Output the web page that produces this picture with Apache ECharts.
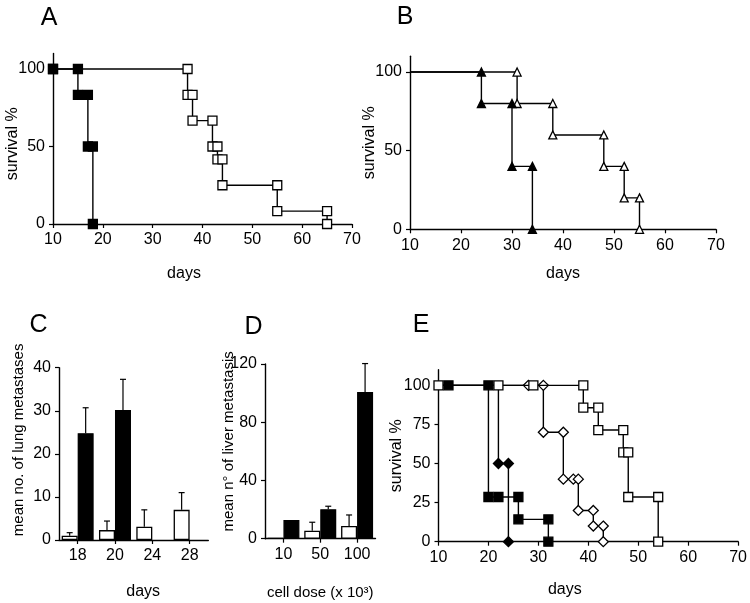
<!DOCTYPE html>
<html><head><meta charset="utf-8">
<script src="https://cdn.jsdelivr.net/npm/echarts@6/dist/echarts.min.js"></script>
<style>html,body{margin:0;padding:0;background:#fff}#c{width:750px;height:603px}</style>
</head><body><div id="c"></div>
<script>
// ---------- Panel A (survival, squares) ----------
const aDarkX = [10,15,15,17,17,18,18];
const aDarkY = [100,100,83.3,83.3,50,50,0];
const aOpenX = [10,37,37,38,38,42,42,43,43,44,44,55,55,65,65];
const aOpenY = [100,100,83.3,83.3,66.7,66.7,50,50,41.7,41.7,25,25,8.3,8.3,0];
// ---------- Panel B (survival, triangles) ----------
const bDarkX = [10,24,24,30,30,34,34];
const bDarkY = [100,100,80,80,40,40,0];
const bOpenX = [10,31,31,38,38,48,48,52,52,55,55];
const bOpenY = [100,100,80,80,60,60,40,40,20,20,0];
// ---------- Panel C (lung metastases) ----------
const cCats = ['18','20','24','28'];
const cOpen = [1.0,2.3,3.1,7.0];
const cOpenErr = [0.7,2.1,3.9,4.0];
const cDark = [24.8,30.2,null,null];
const cDarkErr = [5.9,7.1,null,null];
// ---------- Panel D (liver metastasis) ----------
const dCats = ['10','50','100'];
const dOpen = [0.5,5.5,8.7];
const dOpenErr = [null,5.8,7.6];
const dDark = [12.9,20.3,100.7];
const dDarkErr = [null,2.0,19.6];
// ---------- Panel E (survival, four groups) ----------
const eDarkSqX = [10,12,20,20,22,26,26,32,32];
const eDarkSqY = [100,100,100,28.6,28.6,28.6,14.3,14.3,0];
const eDarkDiaX = [10,22,22,24,24];
const eDarkDiaY = [100,100,50,50,0];
const eOpenDiaX = [10,28,31,31,35,35,37,38,38,41,41,43,43];
const eOpenDiaY = [100,100,100,70,70,40,40,40,20,20,10,10,0];
const eOpenSqX = [10,22,29,39,39,42,42,47,47,48,48,54,54];
const eOpenSqY = [100,100,100,100,85.7,85.7,71.4,71.4,57.1,57.1,28.6,28.6,0];

const FONT = 'Liberation Sans';
const chart = echarts.init(document.getElementById('c'), null, {renderer:'canvas'});

function pts(xs, ys, hide) {
  return xs.map((x,i) => (hide && hide.indexOf(i) >= 0) ? {value:[x,ys[i]], symbol:'none'} : [x, ys[i]]);
}
function surv(g, xs, ys, symbol, size, filled, hide, z) {
  return {
    type:'line', xAxisIndex:g, yAxisIndex:g, data:pts(xs,ys,hide),
    symbol:symbol, symbolSize:size, showAllSymbol:true, z:z||2,
    lineStyle:{color:'#000', width:1.4},
    itemStyle:{color: filled ? '#000' : '#fff', borderColor:'#000', borderWidth:1.3},
    emphasis:{disabled:true}, animation:false
  };
}
function bars(g, vals, filled) {
  return {
    type:'bar', xAxisIndex:g, yAxisIndex:g, data:vals, barWidth:16, barGap:'0%',
    itemStyle:{color: filled ? '#000' : '#fff', borderColor:'#000', borderWidth:1.3},
    emphasis:{disabled:true}, animation:false, z:2
  };
}
function errs(g, vals, errv, side) {
  const data = [];
  vals.forEach((v,i) => { if (v != null && errv[i] != null) data.push([i, v, v + errv[i]]); });
  return {
    type:'custom', xAxisIndex:g, yAxisIndex:g, data:data, z:3, animation:false,
    encode:{x:0, y:[1,2]},
    renderItem:(params, api) => {
      const p0 = api.coord([api.value(0), api.value(1)]);
      const p1 = api.coord([api.value(0), api.value(2)]);
      const x = p0[0] + side * 8;
      return {type:'group', children:[
        {type:'line', shape:{x1:x, y1:p0[1], x2:x, y2:p1[1]}, style:{stroke:'#000', lineWidth:1.2}},
        {type:'line', shape:{x1:x-3, y1:p1[1], x2:x+3, y2:p1[1]}, style:{stroke:'#000', lineWidth:1.2}}
      ]};
    }
  };
}
const axLine = {show:true, lineStyle:{color:'#000', width:1.4}};
const axTick = {show:true, inside:false, length:4, lineStyle:{color:'#000', width:1.2}};
const lab = m => ({color:'#000', fontFamily:FONT, fontSize:16, margin:m});
const nameStyle = (size, pad) => ({color:'#000', fontFamily:FONT, fontSize:size, padding:pad||0});

function daysAxis(g, gap, pad) {
  return {type:'value', gridIndex:g, min:10, max:70, interval:10, name:'days', nameLocation:'middle',
    nameGap:gap, nameMoveOverlap:false, nameTextStyle:nameStyle(16, pad), axisLine:axLine, axisTick:axTick,
    axisLabel:lab(8), splitLine:{show:false}};
}
function survAxis(g, ticks, gap, pad) {
  return {type:'value', gridIndex:g, min:0, max:110, interval:ticks[1]-ticks[0], name:'survival %',
    nameLocation:'middle', nameGap:gap, nameMoveOverlap:false, nameTextStyle:nameStyle(16, pad),
    axisLine:axLine, axisTick:Object.assign({}, axTick, {customValues:ticks}),
    axisLabel:Object.assign(lab(8), {customValues:ticks}), splitLine:{show:false}};
}

const option = {
  backgroundColor:'#fff',
  animation:false,
  textStyle:{fontFamily:FONT},
  grid:[
    {left:53, top:53.5, width:299, height:170.5},
    {left:410, top:56.3, width:306, height:173},
    {left:59, top:367.7, width:149.3, height:172.3},
    {left:265, top:364, width:110.5, height:174.7},
    {left:438.5, top:369.7, width:300, height:172}
  ],
  xAxis:[
    daysAxis(0, 42, [0,37,0,0]),
    daysAxis(1, 36),
    {type:'category', gridIndex:2, data:cCats, name:'days', nameLocation:'middle', nameGap:44, nameMoveOverlap:false,
      nameTextStyle:nameStyle(16,[0,0,0,19]), axisLine:axLine,
      axisTick:Object.assign({}, axTick, {alignWithLabel:true}), axisLabel:lab(8), splitLine:{show:false}},
    {type:'category', gridIndex:3, data:dCats, name:'cell dose (x 10³)', nameLocation:'middle', nameGap:47, nameMoveOverlap:false,
      nameTextStyle:nameStyle(15), axisLine:axLine,
      axisTick:Object.assign({}, axTick, {alignWithLabel:true}), axisLabel:lab(8), splitLine:{show:false}},
    daysAxis(4, 40, [0,47,0,0])
  ],
  yAxis:[
    survAxis(0, [0,50,100], 32, [0,10,0,0]),
    survAxis(1, [0,50,100], 32),
    {type:'value', gridIndex:2, min:0, max:40, interval:10, name:'mean no. of lung metastases',
      nameLocation:'middle', nameGap:33, nameMoveOverlap:false, nameTextStyle:nameStyle(15,[0,0,0,28]),
      axisLine:axLine, axisTick:axTick, axisLabel:lab(8), splitLine:{show:false}},
    {type:'value', gridIndex:3, min:0, max:120, interval:40, name:'mean n° of liver metastasis',
      nameLocation:'middle', nameGap:29, nameMoveOverlap:false, nameTextStyle:nameStyle(15,[0,0,0,20]),
      axisLine:axLine, axisTick:axTick, axisLabel:lab(8), splitLine:{show:false}},
    survAxis(4, [0,25,50,75,100], 34)
  ],
  series:[
    surv(0, aOpenX, aOpenY, 'rect', 9, false, null, 2),
    surv(0, aDarkX, aDarkY, 'rect', 9, true, null, 3),
    surv(1, bOpenX, bOpenY, 'triangle', 8, false, [0], 2),
    surv(1, bDarkX, bDarkY, 'triangle', 8, true, [0], 3),
    bars(2, cOpen, false), bars(2, cDark, true),
    errs(2, cOpen, cOpenErr, -1), errs(2, cDark, cDarkErr, 1),
    bars(3, dOpen, false), bars(3, dDark, true),
    errs(3, dOpen, dOpenErr, -1), errs(3, dDark, dDarkErr, 1),
    surv(4, eDarkDiaX, eDarkDiaY, 'diamond', 10, true, [0,1], 2),
    surv(4, eDarkSqX, eDarkSqY, 'rect', 9, true, [0], 3),
    surv(4, eOpenDiaX, eOpenDiaY, 'diamond', 10, false, [0], 4),
    surv(4, eOpenSqX, eOpenSqY, 'rect', 9, false, null, 5)
  ],
  graphic:[
    ['A',49,18.5],['B',405,17],['C',38.5,325],['D',253.5,327],['E',421,325]
  ].map(l => ({type:'text', x:l[1], y:l[2], style:{text:l[0], font:'25px "Liberation Sans"', fill:'#000',
    align:'center', verticalAlign:'middle', textAlign:'center', textVerticalAlign:'middle'}}))
};
chart.setOption(option);
</script>
</body></html>
